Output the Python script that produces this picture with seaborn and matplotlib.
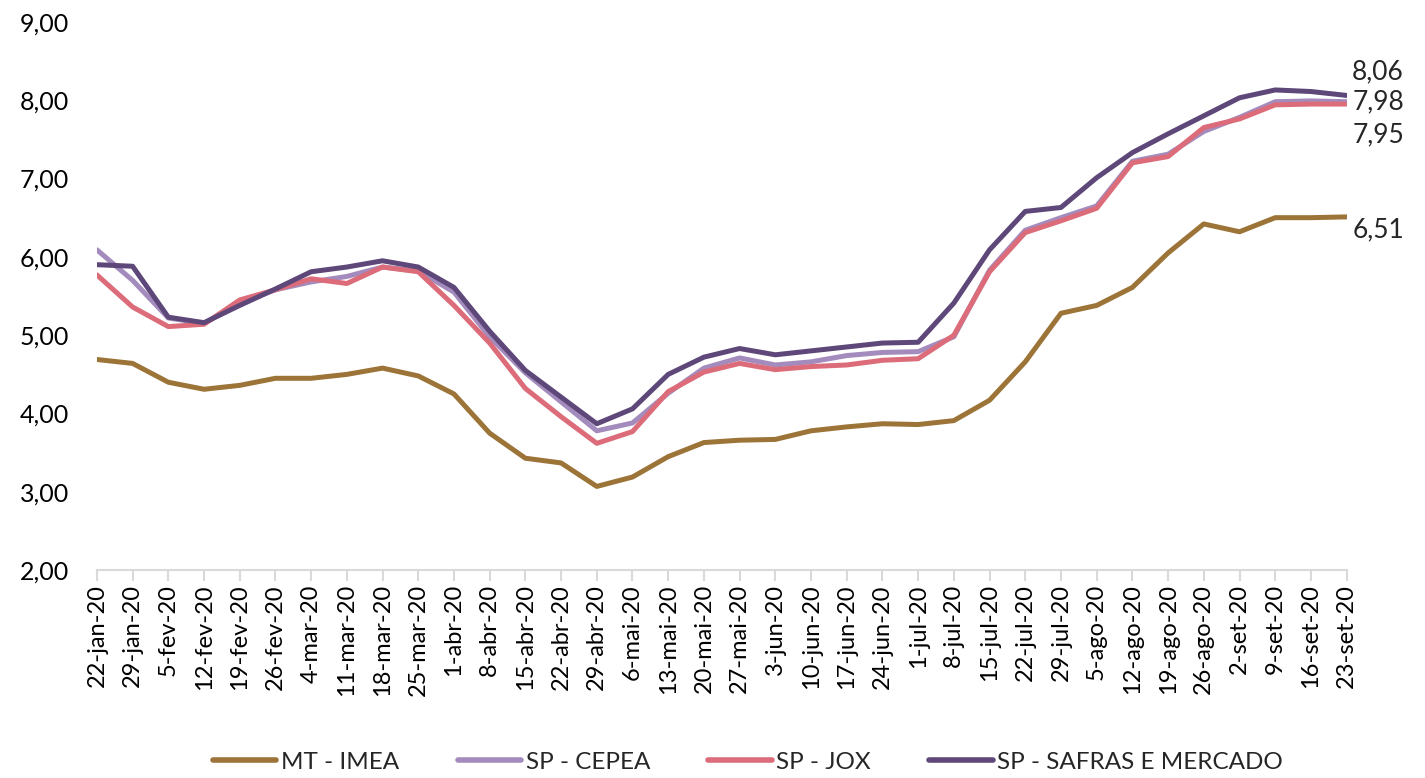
import pandas as pd
import matplotlib.pyplot as plt
import seaborn as sns

datas = ['22-jan-20', '29-jan-20', '5-fev-20', '12-fev-20', '19-fev-20', '26-fev-20',
         '4-mar-20', '11-mar-20', '18-mar-20', '25-mar-20', '1-abr-20', '8-abr-20',
         '15-abr-20', '22-abr-20', '29-abr-20', '6-mai-20', '13-mai-20', '20-mai-20',
         '27-mai-20', '3-jun-20', '10-jun-20', '17-jun-20', '24-jun-20', '1-jul-20',
         '8-jul-20', '15-jul-20', '22-jul-20', '29-jul-20', '5-ago-20', '12-ago-20',
         '19-ago-20', '26-ago-20', '2-set-20', '9-set-20', '16-set-20', '23-set-20']

mt_imea = [4.69, 4.64, 4.40, 4.31, 4.36, 4.45, 4.45, 4.50, 4.58, 4.48, 4.25, 3.75,
           3.43, 3.37, 3.07, 3.19, 3.45, 3.63, 3.66, 3.67, 3.78, 3.83, 3.87, 3.86,
           3.91, 4.17, 4.66, 5.28, 5.38, 5.61, 6.05, 6.42, 6.32, 6.50, 6.50, 6.51]

sp_cepea = [6.09, 5.70, 5.22, 5.15, 5.41, 5.58, 5.68, 5.75, 5.87, 5.82, 5.55, 4.98,
            4.52, 4.15, 3.78, 3.88, 4.26, 4.58, 4.71, 4.62, 4.66, 4.74, 4.78, 4.79,
            4.98, 5.83, 6.34, 6.50, 6.65, 7.22, 7.31, 7.60, 7.78, 7.98, 7.99, 7.98]

sp_jox = [5.77, 5.36, 5.11, 5.14, 5.45, 5.58, 5.72, 5.66, 5.87, 5.81, 5.38, 4.90,
          4.32, 3.96, 3.62, 3.77, 4.28, 4.53, 4.64, 4.56, 4.60, 4.62, 4.68, 4.70,
          5.00, 5.81, 6.31, 6.46, 6.62, 7.20, 7.28, 7.65, 7.76, 7.94, 7.95, 7.95]

sp_safras = [5.90, 5.88, 5.23, 5.16, 5.38, 5.59, 5.81, 5.87, 5.95, 5.87, 5.61, 5.05,
             4.55, 4.21, 3.87, 4.06, 4.50, 4.72, 4.83, 4.75, 4.80, 4.85, 4.90, 4.91,
             5.41, 6.09, 6.58, 6.63, 7.01, 7.33, 7.57, 7.80, 8.03, 8.13, 8.11, 8.06]

series = {
    'MT - IMEA': mt_imea,
    'SP - CEPEA': sp_cepea,
    'SP - JOX': sp_jox,
    'SP - SAFRAS E MERCADO': sp_safras,
}
cores = ['#9C7438', '#A48BBD', '#DC6C79', '#5E4779']

# formato longo para o seaborn
linhas = []
for nome, valores in series.items():
    for i, v in enumerate(valores):
        linhas.append({'idx': i, 'valor': v, 'serie': nome})
df = pd.DataFrame(linhas)

sns.set_theme(style='white')
plt.rcParams['font.family'] = ['Lato', 'DejaVu Sans']

fig = plt.figure(figsize=(14.25, 7.78), dpi=100)
ax = fig.add_axes([0.068, 0.267, 0.877, 0.705])

sns.lineplot(data=df, x='idx', y='valor', hue='serie', palette=cores,
             linewidth=3.6, ax=ax, legend=True)

ax.set_xlim(0, len(datas) - 1)
ax.set_ylim(2, 9)
ax.set_yticks(range(2, 10))
ax.set_yticklabels([f'{v},00' for v in range(2, 10)], fontsize=18)
ax.set_xticks(range(len(datas)))
ax.set_xticklabels(datas, rotation=90, fontsize=17)
ax.set_xlabel('')
ax.set_ylabel('')

for s in ['top', 'right', 'left']:
    ax.spines[s].set_visible(False)
ax.spines['bottom'].set_color('#D9D9D9')
ax.spines['bottom'].set_linewidth(1.5)
ax.tick_params(axis='x', length=8, width=1.5, color='#D9D9D9', pad=2, direction='out',
               labelcolor='black')
ax.tick_params(axis='y', length=0, pad=20, labelcolor='black')
ax.xaxis.set_ticks_position('bottom')

# rótulos dos últimos valores
ultimo = len(datas) - 1
rotulos = [(sp_safras[-1], 17), (sp_cepea[-1], 0), (sp_jox[-1], -22), (mt_imea[-1], -9)]
for v, dy in rotulos:
    ax.annotate(f'{v:.2f}'.replace('.', ','), xy=(ultimo, v), xytext=(4, dy),
                textcoords='offset points', fontsize=19, va='center', ha='left',
                annotation_clip=False)

handles, labels = ax.get_legend_handles_labels()
ax.get_legend().remove()
for h in handles:
    h.set_linewidth(4)
fig.legend(handles, labels, loc='center', bbox_to_anchor=(0.525, 0.02),
           ncol=4, frameon=False, fontsize=17.5, handlelength=2.6, columnspacing=2.4,
           handletextpad=0.2)

fig.savefig('out.png', dpi=100)
